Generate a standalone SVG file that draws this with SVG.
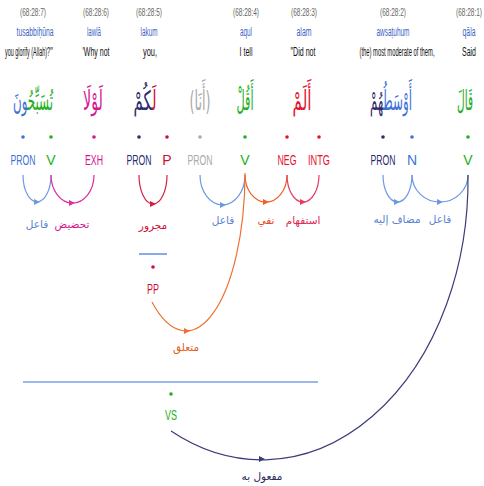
<svg xmlns="http://www.w3.org/2000/svg" width="484" height="486" viewBox="0 0 484 486">
<style>
text{font-family:"Liberation Sans",Arial,sans-serif;text-anchor:middle}
.loc{font-size:11.5px;fill:#666}
.tr{font-size:12px;fill:#3d5fc4}
.en{font-size:12px;fill:#111}
.pos{font-size:14px}
.ar{font-family:"DejaVu Sans",sans-serif;font-size:27px}
.rel{font-family:"DejaVu Sans",sans-serif;font-size:10.5px}
.arc{fill:none;stroke-width:1.2}
.g{fill:#22b022}.b{fill:#3d72d9}.n{fill:#2c2c6e}.m{fill:#d6168f}.r{fill:#cc1036}.rr{fill:#e5122e}.gr{fill:#aaa}
</style>
<defs>
<path id="ah" d="M-3,-3 L3,0 L-3,3 Z"/>
</defs>

<g id="w7">
<text class="loc" x="33" y="16" textLength="26" lengthAdjust="spacingAndGlyphs">(68:28:7)</text>
<text class="tr" x="35" y="36" textLength="37" lengthAdjust="spacingAndGlyphs">tusabbiḥūna</text>
<text class="en" x="29" y="56" textLength="48" lengthAdjust="spacingAndGlyphs">you glorify (Allah)?'"</text>
<text class="ar" x="33" y="110" direction="rtl" textLength="40" lengthAdjust="spacingAndGlyphs"><tspan class="g">تُسَبِّحُ</tspan><tspan class="b">ونَ</tspan></text>
<circle cx="23" cy="137" r="1.8" class="b"/><text class="pos b" x="23" y="165" textLength="25" lengthAdjust="spacingAndGlyphs">PRON</text>
<circle cx="51" cy="137" r="1.8" class="g"/><text class="pos g" x="51" y="165">V</text>
</g>

<g id="w6">
<text class="loc" x="96" y="16" textLength="26" lengthAdjust="spacingAndGlyphs">(68:28:6)</text>
<text class="tr" x="94" y="36" textLength="14" lengthAdjust="spacingAndGlyphs">lawlā</text>
<text class="en" x="96" y="56" textLength="27" lengthAdjust="spacingAndGlyphs">'Why not</text>
<text class="ar m" x="93" y="110" textLength="20" lengthAdjust="spacingAndGlyphs">لَوْلَا</text>
<circle cx="94" cy="137" r="1.8" class="m"/><text class="pos m" x="94" y="165" textLength="18" lengthAdjust="spacingAndGlyphs">EXH</text>
</g>

<g id="w5">
<text class="loc" x="149" y="16" textLength="26" lengthAdjust="spacingAndGlyphs">(68:28:5)</text>
<text class="tr" x="149" y="36" textLength="17" lengthAdjust="spacingAndGlyphs">lakum</text>
<text class="en" x="150" y="56" textLength="14" lengthAdjust="spacingAndGlyphs">you,</text>
<text class="ar" x="145" y="110" direction="rtl" textLength="23" lengthAdjust="spacingAndGlyphs"><tspan class="r">لَ</tspan><tspan class="n">كُمْ</tspan></text>
<circle cx="139" cy="137" r="1.8" class="n"/><text class="pos n" x="139" y="165" textLength="25" lengthAdjust="spacingAndGlyphs">PRON</text>
<circle cx="167" cy="137" r="1.8" class="r"/><text class="pos r" x="167" y="165">P</text>
</g>

<g id="w4h">
<text class="ar gr" x="200" y="110" textLength="21" lengthAdjust="spacingAndGlyphs">(أَنَا)</text>
<circle cx="200" cy="137" r="1.8" class="gr"/><text class="pos gr" x="200" y="165" textLength="25" lengthAdjust="spacingAndGlyphs">PRON</text>
</g>

<g id="w4">
<text class="loc" x="246" y="16" textLength="26" lengthAdjust="spacingAndGlyphs">(68:28:4)</text>
<text class="tr" x="246" y="36" textLength="12" lengthAdjust="spacingAndGlyphs">aqul</text>
<text class="en" x="246" y="56" textLength="13" lengthAdjust="spacingAndGlyphs">I tell</text>
<text class="ar g" x="245" y="110" textLength="17" lengthAdjust="spacingAndGlyphs">أَقُلْ</text>
<circle cx="245" cy="137" r="1.8" class="g"/><text class="pos g" x="245" y="165">V</text>
</g>

<g id="w3">
<text class="loc" x="304" y="16" textLength="26" lengthAdjust="spacingAndGlyphs">(68:28:3)</text>
<text class="tr" x="304" y="36" textLength="15" lengthAdjust="spacingAndGlyphs">alam</text>
<text class="en" x="303" y="56" textLength="25" lengthAdjust="spacingAndGlyphs">"Did not</text>
<text class="ar rr" x="302" y="110" textLength="19" lengthAdjust="spacingAndGlyphs">أَلَمْ</text>
<circle cx="287" cy="137" r="1.8" class="rr"/><text class="pos rr" x="287" y="165" textLength="19" lengthAdjust="spacingAndGlyphs">NEG</text>
<circle cx="319" cy="137" r="1.8" class="rr"/><text class="pos rr" x="319" y="165" textLength="22" lengthAdjust="spacingAndGlyphs">INTG</text>
</g>

<g id="w2">
<text class="loc" x="393" y="16" textLength="26" lengthAdjust="spacingAndGlyphs">(68:28:2)</text>
<text class="tr" x="393" y="36" textLength="33" lengthAdjust="spacingAndGlyphs">awsaṭuhum</text>
<text class="en" x="397" y="56" textLength="75" lengthAdjust="spacingAndGlyphs">(the) most moderate of them,</text>
<text class="ar" x="391" y="110" direction="rtl" textLength="42" lengthAdjust="spacingAndGlyphs"><tspan class="b">أَوْسَطُ</tspan><tspan class="n">هُمْ</tspan></text>
<circle cx="383" cy="137" r="1.8" class="n"/><text class="pos n" x="383" y="165" textLength="25" lengthAdjust="spacingAndGlyphs">PRON</text>
<circle cx="412" cy="137" r="1.8" class="b"/><text class="pos b" x="412" y="165">N</text>
</g>

<g id="w1">
<text class="loc" x="469" y="16" textLength="26" lengthAdjust="spacingAndGlyphs">(68:28:1)</text>
<text class="tr" x="469" y="36" textLength="13" lengthAdjust="spacingAndGlyphs">qāla</text>
<text class="en" x="469" y="56" textLength="14" lengthAdjust="spacingAndGlyphs">Said</text>
<text class="ar g" x="465" y="110" textLength="16" lengthAdjust="spacingAndGlyphs">قَالَ</text>
<circle cx="468" cy="137" r="1.8" class="g"/><text class="pos g" x="468" y="165">V</text>
</g>

<g id="pp">
<line x1="139" y1="254" x2="167" y2="254" stroke="#3d72d9" stroke-width="1.2"/>
<circle cx="153" cy="267" r="1.8" class="r"/><text class="pos r" x="153" y="294" textLength="12" lengthAdjust="spacingAndGlyphs">PP</text>
</g>

<g id="vs">
<line x1="23" y1="382" x2="318" y2="382" stroke="#3d72d9" stroke-width="1.2"/>
<circle cx="171" cy="394" r="1.8" class="g"/><text class="pos g" x="171" y="420" textLength="12" lengthAdjust="spacingAndGlyphs">VS</text>
</g>

<g id="connectors">
<path class="arc" stroke="#6f98e2" d="M23,175 A14,27 0 0,0 51,175"/>
<use href="#ah" x="37" y="202" fill="#6f98e2"/>
<text class="rel" x="37" y="228" fill="#5a82d0">فاعل</text>

<path class="arc" stroke="#e02ea0" d="M51,175 A21.5,28 0 0,0 94,175"/>
<use href="#ah" x="72" y="203" fill="#e02ea0"/>
<text class="rel" x="72" y="228" fill="#d6168f">تحضيض</text>

<path class="arc" stroke="#d42040" d="M139,175 A14,29 0 0,0 167,175"/>
<use href="#ah" x="153" y="204" fill="#d42040"/>
<text class="rel" x="153" y="229" fill="#cc1036">مجرور</text>

<path class="arc" stroke="#6f98e2" d="M200,175 A22.5,30 0 0,0 245,175"/>
<use href="#ah" x="223" y="205" fill="#6f98e2"/>
<text class="rel" x="223" y="224" fill="#5a82d0">فاعل</text>

<path class="arc" stroke="#f0602a" d="M245,175 A21,27 0 0,0 287,175"/>
<use href="#ah" x="266" y="202" fill="#f0602a"/>
<text class="rel" x="266" y="224" fill="#e04a20">نفي</text>

<path class="arc" stroke="#e83a62" d="M287,175 A16,27 0 0,0 319,175"/>
<use href="#ah" x="303" y="202" fill="#e83a62"/>
<text class="rel" x="303" y="224" fill="#e0284e">استفهام</text>

<path class="arc" stroke="#6f98e2" d="M383,175 A14.5,27 0 0,0 412,175"/>
<use href="#ah" x="397" y="202" fill="#6f98e2"/>
<text class="rel" x="397" y="223" fill="#5a82d0">مضاف إليه</text>

<path class="arc" stroke="#6f98e2" d="M412,175 A28,27 0 0,0 468,175"/>
<use href="#ah" x="440" y="202" fill="#6f98e2"/>
<text class="rel" x="440" y="223" fill="#5a82d0">فاعل</text>

<path class="arc" stroke="#f07030" d="M152,302 A59,158 0 0,0 245,173"/>
<use href="#ah" x="187" y="331" fill="#f07030"/>
<text class="rel" x="186" y="351" fill="#e06020">متعلق</text>

<path class="arc" stroke="#3c3c7a" d="M171,431 A206,280 0 0,0 468,175"/>
<use href="#ah" x="262" y="459" fill="#3c3c7a"/>
<text class="rel" x="262" y="480" fill="#2c2c5e">مفعول به</text>
</g>
</svg>
